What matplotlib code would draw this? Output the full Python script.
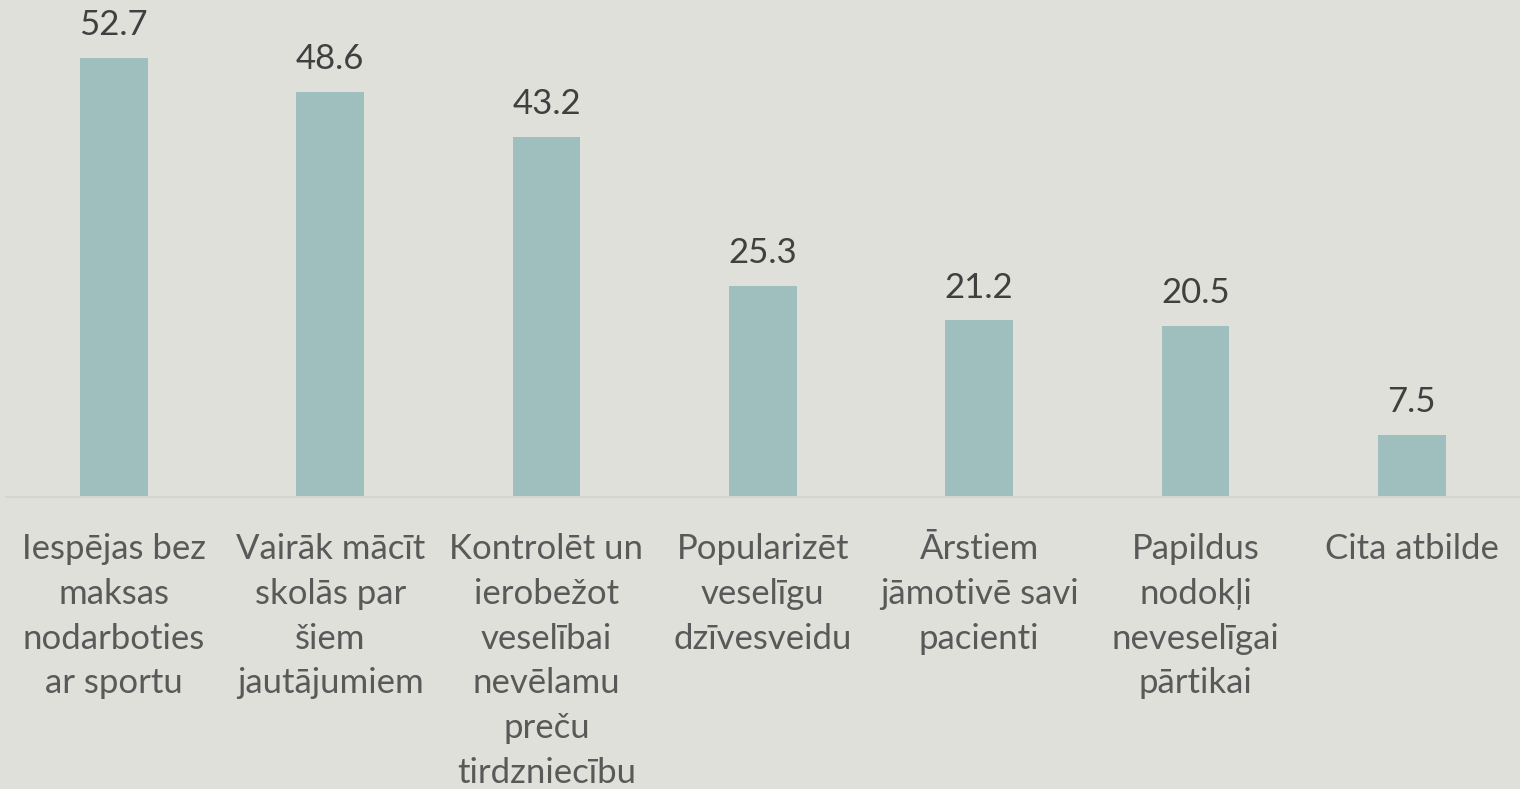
import matplotlib.pyplot as plt
import numpy as np

categories = [
    "Iespējas bez\nmaksas\nnodarboties\nar sportu",
    "Vairāk mācīt\nskolās par\nšiem\njautājumiem",
    "Kontrolēt un\nierobežot\nveselībai\nnevēlamu\npreču\ntirdzniecību",
    "Popularizēt\nveselīgu\ndzīvesveidu",
    "Ārstiem\njāmotivē savi\npacienti",
    "Papildus\nnodokļi\nneveselīgai\npārtikai",
    "Cita atbilde",
]
values = [52.7, 48.6, 43.2, 25.3, 21.2, 20.5, 7.5]

bg = "#E0E0DB"
bar_color = "#9FBFBF"

plt.rcParams['font.family'] = ['Lato', 'DejaVu Sans']

fig = plt.figure(figsize=(15.2, 7.89), dpi=100, facecolor=bg)
ax = fig.add_axes([0.0037, 0.37, 0.9963, 0.63])
ax.set_facecolor(bg)

x = np.arange(len(values))
ax.bar(x, values, width=0.314, color=bar_color, zorder=2)

# value labels above bars
for xi, v in zip(x, values):
    ax.annotate(f"{v:.1f}", (xi, v), xytext=(0, 12), textcoords='offset points',
                ha='center', va='bottom', fontsize=25, color='#404040')

ax.set_xlim(-0.5, len(values) - 0.5)
ax.set_ylim(0, 59.6)
ax.set_yticks([])
ax.set_xticks(x)
ax.set_xticklabels(categories, fontsize=25, color='#595959', linespacing=1.49)
ax.tick_params(axis='x', length=0, pad=26)
for s in ['top', 'right', 'left']:
    ax.spines[s].set_visible(False)
ax.spines['bottom'].set_color('#D4D4D0')
ax.spines['bottom'].set_linewidth(1.5)

fig.savefig('out.png', dpi=100, facecolor=bg)
